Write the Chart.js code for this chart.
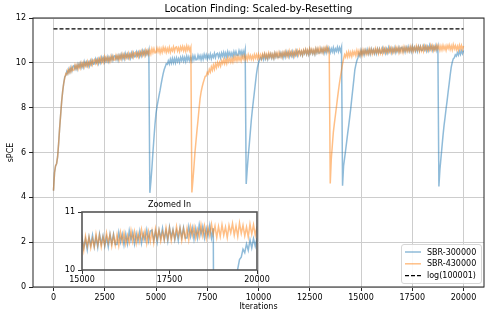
<!DOCTYPE html>
<html>
<head>
<meta charset="utf-8">
<script src="https://cdn.jsdelivr.net/npm/chart.js@4.4.0/dist/chart.umd.min.js"></script>
<style>
  body { margin: 0; background: #fff; }
  #wrap { position: relative; width: 490px; height: 318px; }
  #mainChart { position: absolute; left: 0; top: 0; }
  #insetChart { position: absolute; left: 40px; top: 196px; }
</style>
</head>
<body>
<div id="wrap">
  <canvas id="mainChart" width="490" height="318"></canvas>
  <canvas id="insetChart" width="240" height="92"></canvas>
</div>
<script>
// sPCE, one value every 50 iterations (0 .. 20000), 20 per row
const stepSize = 50;

const sbr300000 = [
    4.30, 5.10, 5.40, 5.50, 5.80, 6.40, 7.10, 7.70, 8.30, 8.75, 9.10, 9.38, 9.44, 9.62, 9.52, 9.72, 9.58, 9.79, 9.64, 9.84,
    9.88, 9.72, 9.87, 9.71, 9.94, 9.81, 9.98, 9.79, 9.96, 9.80, 10.05, 9.88, 10.03, 9.86, 10.02, 9.86, 10.09, 9.93, 10.10, 9.94,
    9.96, 10.17, 10.01, 10.16, 9.97, 10.17, 10.01, 10.24, 10.08, 10.23, 10.04, 10.21, 10.08, 10.27, 10.06, 10.23, 10.12, 10.31, 10.12, 10.29,
    10.32, 10.15, 10.30, 10.12, 10.34, 10.21, 10.38, 10.18, 10.35, 10.18, 10.42, 10.24, 10.39, 10.22, 10.38, 10.21, 10.44, 10.27, 10.44, 10.27,
    10.28, 10.48, 10.32, 10.47, 10.28, 10.47, 10.31, 10.54, 10.38, 10.53, 10.34, 10.52, 10.39, 10.57, 4.20, 4.70, 5.30, 6.00, 6.65, 7.25,
    7.75, 8.05, 8.30, 8.55, 8.78, 9.05, 9.30, 9.52, 9.70, 9.82, 9.96, 9.93, 10.09, 9.95, 10.16, 9.99, 10.20, 10.00, 10.19, 10.00,
    10.22, 10.05, 10.19, 10.02, 10.24, 10.10, 10.27, 10.07, 10.24, 10.06, 10.30, 10.12, 10.27, 10.09, 10.25, 10.08, 10.31, 10.14, 10.31, 10.13,
    10.14, 10.34, 10.18, 10.32, 10.13, 10.32, 10.16, 10.38, 10.22, 10.36, 10.17, 10.34, 10.21, 10.39, 10.18, 10.35, 10.24, 10.42, 10.23, 10.40,
    10.43, 10.25, 10.40, 10.22, 10.44, 10.30, 10.47, 10.27, 10.44, 10.26, 10.50, 10.32, 10.46, 10.29, 10.44, 10.28, 10.50, 10.34, 10.50, 10.33,
    10.33, 10.54, 10.37, 10.52, 10.32, 10.52, 10.35, 10.58, 4.60, 5.25, 5.85, 6.35, 6.90, 7.45, 7.90, 8.30, 8.70, 9.10, 9.50, 9.80,
    10.00, 10.12, 10.23, 10.15, 10.33, 10.15, 10.37, 10.18, 10.33, 10.16, 10.37, 10.24, 10.40, 10.21, 10.37, 10.20, 10.43, 10.26, 10.40, 10.23,
    10.24, 10.45, 10.28, 10.43, 10.23, 10.43, 10.26, 10.49, 10.32, 10.47, 10.27, 10.45, 10.31, 10.50, 10.28, 10.46, 10.34, 10.53, 10.33, 10.51,
    10.53, 10.36, 10.50, 10.33, 10.54, 10.41, 10.57, 10.38, 10.54, 10.37, 10.60, 10.43, 10.57, 10.40, 10.55, 10.38, 10.61, 10.44, 10.61, 10.43,
    10.44, 10.64, 10.48, 10.62, 10.43, 10.62, 10.45, 10.68, 10.51, 10.65, 10.46, 10.63, 10.49, 10.68, 10.46, 10.63, 10.52, 10.70, 10.50, 10.68,
    10.52, 10.70, 4.52, 5.40, 5.75, 6.10, 6.47, 6.85, 7.20, 7.58, 7.97, 8.40, 8.83, 9.25, 9.69, 9.92, 10.10, 10.22, 10.42, 10.30,
    10.56, 10.38, 10.53, 10.35, 10.57, 10.43, 10.60, 10.40, 10.57, 10.39, 10.62, 10.45, 10.59, 10.41, 10.57, 10.40, 10.62, 10.46, 10.62, 10.44,
    10.44, 10.65, 10.48, 10.62, 10.43, 10.62, 10.45, 10.68, 10.51, 10.65, 10.45, 10.63, 10.49, 10.67, 10.46, 10.63, 10.51, 10.69, 10.50, 10.67,
    10.69, 10.51, 10.66, 10.48, 10.69, 10.55, 10.72, 10.52, 10.68, 10.50, 10.74, 10.56, 10.70, 10.52, 10.68, 10.51, 10.73, 10.56, 10.73, 10.55,
    10.55, 10.75, 10.58, 10.73, 10.53, 10.72, 10.55, 10.78, 10.61, 10.75, 10.55, 10.72, 10.59, 10.77, 10.55, 10.72, 4.48, 5.25, 5.75, 6.25,
    6.75, 7.20, 7.56, 7.95, 8.30, 8.70, 9.06, 9.45, 9.80, 10.02, 10.18, 10.22, 10.36, 10.30, 10.45, 10.34, 10.52, 10.38, 10.54, 10.41, 10.55
];

const sbr430000 = [
    4.30, 5.10, 5.40, 5.50, 5.80, 6.40, 7.10, 7.70, 8.30, 8.75, 9.10, 9.33, 9.52, 9.48, 9.68, 9.56, 9.75, 9.61, 9.81, 9.66,
    9.69, 9.91, 9.75, 9.91, 9.73, 9.93, 9.77, 10.00, 9.84, 10.00, 9.82, 10.00, 9.87, 10.06, 9.85, 10.03, 9.92, 10.11, 9.92, 10.11,
    10.15, 9.98, 10.13, 9.96, 10.18, 10.05, 10.22, 10.03, 10.20, 10.03, 10.27, 10.09, 10.24, 10.07, 10.23, 10.06, 10.29, 10.13, 10.30, 10.12,
    10.13, 10.34, 10.18, 10.32, 10.13, 10.33, 10.17, 10.39, 10.23, 10.38, 10.19, 10.36, 10.23, 10.42, 10.21, 10.38, 10.27, 10.45, 10.26, 10.44,
    10.47, 10.29, 10.44, 10.27, 10.49, 10.35, 10.52, 10.33, 10.50, 10.33, 10.57, 10.40, 10.55, 10.37, 10.57, 10.40, 10.63, 10.46, 10.63, 10.45,
    10.46, 10.66, 10.49, 10.64, 10.44, 10.63, 10.47, 10.69, 10.52, 10.67, 10.47, 10.64, 10.50, 10.69, 10.47, 10.64, 10.53, 10.71, 10.51, 10.68,
    10.71, 10.53, 10.67, 10.50, 10.71, 10.57, 10.73, 10.54, 10.70, 10.52, 10.75, 10.57, 10.72, 10.54, 10.69, 4.22, 4.75, 5.35, 6.00, 6.50,
    7.00, 7.45, 7.95, 8.40, 8.70, 8.92, 9.10, 9.25, 9.40, 9.42, 9.58, 9.51, 9.71, 9.59, 9.82, 9.67, 9.90, 9.72, 9.95, 9.79,
    10.02, 9.86, 10.02, 9.86, 10.09, 9.97, 10.15, 9.96, 10.14, 9.97, 10.22, 10.05, 10.20, 10.03, 10.19, 10.03, 10.26, 10.10, 10.27, 10.09,
    10.29, 10.12, 10.26, 10.09, 10.30, 10.17, 10.33, 10.14, 10.30, 10.13, 10.36, 10.19, 10.33, 10.16, 10.31, 10.15, 10.37, 10.21, 10.37, 10.19,
    10.39, 10.21, 10.36, 10.18, 10.39, 10.26, 10.42, 10.22, 10.39, 10.21, 10.44, 10.27, 10.41, 10.23, 10.39, 10.22, 10.44, 10.28, 10.44, 10.26,
    10.46, 10.28, 10.43, 10.25, 10.47, 10.33, 10.50, 10.30, 10.47, 10.29, 10.53, 10.35, 10.50, 10.32, 10.48, 10.31, 10.54, 10.37, 10.54, 10.36,
    10.56, 10.38, 10.53, 10.35, 10.57, 10.43, 10.60, 10.40, 10.57, 10.39, 10.63, 10.45, 10.60, 10.42, 10.58, 10.41, 10.64, 10.47, 10.64, 10.46,
    10.66, 10.48, 10.63, 10.45, 10.67, 10.53, 10.70, 10.50, 10.67, 10.49, 4.62, 5.70, 6.30, 6.90, 7.29, 7.65, 8.02, 8.40, 8.76, 9.10,
    9.40, 9.68, 9.95, 10.18, 10.37, 10.26, 10.45, 10.27, 10.49, 10.30, 10.47, 10.29, 10.51, 10.36, 10.50, 10.32, 10.55, 10.37, 10.54, 10.35,
    10.54, 10.34, 10.58, 10.41, 10.57, 10.38, 10.54, 10.40, 10.62, 10.43, 10.60, 10.40, 10.57, 10.43, 10.64, 10.47, 10.61, 10.41, 10.60, 10.43,
    10.61, 10.42, 10.65, 10.48, 10.64, 10.45, 10.60, 10.47, 10.68, 10.49, 10.66, 10.46, 10.63, 10.49, 10.70, 10.53, 10.67, 10.46, 10.66, 10.49,
    10.67, 10.47, 10.71, 10.54, 10.69, 10.50, 10.66, 10.52, 10.73, 10.54, 10.72, 10.51, 10.68, 10.54, 10.75, 10.58, 10.72, 10.51, 10.71, 10.54,
    10.72, 10.52, 10.75, 10.59, 10.74, 10.55, 10.70, 10.57, 10.78, 10.59, 10.76, 10.55, 10.73, 10.59, 10.79, 10.62, 10.76, 10.56, 10.75, 10.58,
    10.78, 10.60, 10.74, 10.56, 10.77, 10.64, 10.80, 10.60, 10.76, 10.58, 10.81, 10.63, 10.77, 10.59, 10.74, 10.57, 10.79, 10.62, 10.78, 10.60, 10.75
];

const iterations = sbr300000.map((_, i) => i * stepSize);
const targetValue = Math.log(100001);
const targetRange = [0, 20000];

const xTicks = [0, 2500, 5000, 7500, 10000, 12500, 15000, 17500, 20000];
const yTicks = [0, 2, 4, 6, 8, 10, 12];
const insetXTicks = [15000, 17500, 20000];
const insetYTicks = [10, 11];

const seriesLabels = ['SBR-300000', 'SBR-430000', 'log(100001)'];

Chart.defaults.font.family = "'DejaVu Sans', sans-serif";
Chart.defaults.font.size = 8;
Chart.defaults.color = '#000';

function toPoints(values) {
    return values.map((v, i) => ({ x: iterations[i], y: v }));
}

function makeDatasets() {
    return [
        {
            label: seriesLabels[0],
            data: toPoints(sbr300000),
            borderColor: 'rgba(31, 119, 180, 0.5)',
            borderWidth: 1.5,
            pointRadius: 0,
            order: 2,
        },
        {
            label: seriesLabels[1],
            data: toPoints(sbr430000),
            borderColor: 'rgba(255, 127, 14, 0.5)',
            borderWidth: 1.5,
            pointRadius: 0,
            order: 1,
        },
        {
            label: seriesLabels[2],
            data: targetRange.map(x => ({ x: x, y: targetValue })),
            borderColor: '#000',
            borderWidth: 1.3,
            borderDash: [4, 2],
            pointRadius: 0,
            order: 0,
        },
    ];
}

// black box round the plot area, like matplotlib spines
const frameBox = {
    id: 'frameBox',
    afterDraw(chart, args, opts) {
        const { ctx, chartArea: a } = chart;
        ctx.save();
        ctx.strokeStyle = opts.color;
        ctx.lineWidth = opts.width;
        ctx.strokeRect(a.left, a.top, a.right - a.left, a.bottom - a.top);
        ctx.restore();
    }
};

// legend in the lower right corner of the plot
const cornerLegend = {
    id: 'cornerLegend',
    afterDraw(chart) {
        const { ctx, chartArea: a } = chart;
        const sets = chart.data.datasets;
        const w = 80, h = 39;
        const x0 = a.right - 3 - w, y0 = a.bottom - 4 - h;
        ctx.save();
        ctx.beginPath();
        ctx.roundRect(x0 + 0.5, y0 + 0.5, w, h, 2.5);
        ctx.fillStyle = 'rgba(255,255,255,0.85)';
        ctx.fill();
        ctx.strokeStyle = '#d6d6d6';
        ctx.lineWidth = 1;
        ctx.stroke();
        ctx.font = "8px 'DejaVu Sans', sans-serif";
        ctx.textBaseline = 'middle';
        ctx.fillStyle = '#000';
        sets.forEach((ds, i) => {
            const y = y0 + 8 + i * 11.8;
            ctx.beginPath();
            ctx.setLineDash(ds.borderDash || []);
            ctx.strokeStyle = ds.borderColor;
            ctx.lineWidth = ds.borderWidth;
            ctx.moveTo(x0 + 4, y);
            ctx.lineTo(x0 + 20, y);
            ctx.stroke();
            ctx.setLineDash([]);
            ctx.fillText(ds.label, x0 + 26, y + 0.5);
        });
        ctx.restore();
    }
};

const gridColor = '#cdcdcd';

new Chart(document.getElementById('mainChart'), {
    type: 'line',
    data: { datasets: makeDatasets() },
    options: {
        responsive: false,
        animation: false,
        events: [],
        layout: { padding: { top: 0, right: 6, bottom: 0, left: 0 } },
        plugins: {
            legend: { display: false },
            tooltip: { enabled: false },
            title: {
                display: true,
                text: 'Location Finding: Scaled-by-Resetting',
                fullSize: false,
                font: { size: 10, weight: 'normal' },
                padding: { top: 3, bottom: 3 },
            },
            frameBox: { color: '#222', width: 1 },
        },
        scales: {
            x: {
                type: 'linear',
                min: -1000,
                max: 21000,
                afterBuildTicks: (scale) => { scale.ticks = xTicks.map(v => ({ value: v })); },
                afterFit: (scale) => { scale.height = 31; },
                ticks: { callback: (v) => String(v), padding: 2, maxRotation: 0, autoSkip: false },
                grid: { color: gridColor, tickColor: '#222', tickLength: 4 },
                border: { display: false },
                title: { display: true, text: 'Iterations', font: { size: 8 }, padding: { top: 0, bottom: 6 } },
            },
            y: {
                min: 0,
                max: 12,
                afterBuildTicks: (scale) => { scale.ticks = yTicks.map(v => ({ value: v })); },
                afterFit: (scale) => { scale.width = 33; },
                ticks: { callback: (v) => String(v), padding: 3 },
                grid: { color: gridColor, tickColor: '#222', tickLength: 4 },
                border: { display: false },
                title: { display: true, text: 'sPCE', font: { size: 8 }, padding: { top: 6, bottom: 0 } },
            },
        },
    },
    plugins: [frameBox, cornerLegend],
});

new Chart(document.getElementById('insetChart'), {
    type: 'line',
    data: { datasets: makeDatasets().slice(0, 2) },
    options: {
        responsive: false,
        animation: false,
        events: [],
        layout: { padding: { top: 0, right: 23, bottom: 0, left: 0 } },
        plugins: {
            legend: { display: false },
            tooltip: { enabled: false },
            title: {
                display: true,
                text: 'Zoomed In',
                fullSize: false,
                font: { size: 8, weight: 'normal' },
                padding: { top: 4, bottom: 2.4 },
            },
            frameBox: { color: '#555', width: 1.6 },
        },
        scales: {
            x: {
                type: 'linear',
                min: 15000,
                max: 20000,
                afterBuildTicks: (scale) => { scale.ticks = insetXTicks.map(v => ({ value: v })); },
                afterFit: (scale) => { scale.height = 18; },
                ticks: { callback: (v) => String(v), padding: 1, maxRotation: 0, autoSkip: false },
                grid: { drawOnChartArea: false, tickColor: '#333', tickLength: 4 },
                border: { display: false },
            },
            y: {
                min: 10,
                max: 11,
                afterBuildTicks: (scale) => { scale.ticks = insetYTicks.map(v => ({ value: v })); },
                afterFit: (scale) => { scale.width = 42; },
                ticks: { callback: (v) => String(v), padding: 3 },
                grid: { drawOnChartArea: false, tickColor: '#333', tickLength: 4 },
                border: { display: false },
            },
        },
    },
    plugins: [frameBox],
});
</script>
</body>
</html>
